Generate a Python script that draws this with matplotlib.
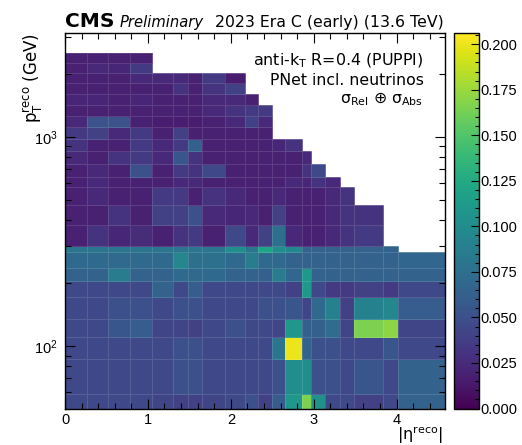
import numpy as np
import matplotlib
matplotlib.use("Agg")
import matplotlib.pyplot as plt
from matplotlib.ticker import MultipleLocator, AutoMinorLocator, FormatStrFormatter

plt.rcParams['font.family'] = ['Liberation Sans', 'DejaVu Sans']
plt.rcParams['mathtext.fontset'] = 'dejavusans'

# ---- data ----
eta_edges = [0, 0.261, 0.522, 0.783, 1.044, 1.305, 1.479, 1.653, 1.93, 2.172,
             2.322, 2.5, 2.65, 2.853, 2.964, 3.139, 3.314, 3.489, 3.839, 4.013, 4.583]
pt_edges = [50, 59, 87, 110, 134, 172, 205, 237, 280, 300, 378, 470, 578, 644,
            740, 852, 973, 1109, 1254, 1418, 1601, 1801, 2011, 2260, 2523]

nan = np.nan
# rows from low pT to high pT, 20 eta bins each (nan = empty)
row_50 = [0.045, 0.045, 0.045, 0.045, 0.042, 0.04, 0.04, 0.042, 0.045, 0.05, 0.04, 0.06, 0.11, 0.165, 0.105, 0.045, 0.045, 0.04, 0.045, 0.065]
row_59 = [0.045, 0.045, 0.045, 0.045, 0.045, 0.05, 0.05, 0.045, 0.045, 0.045, 0.045, 0.05, 0.10, 0.10, 0.05, 0.05, 0.045, 0.055, 0.045, 0.065]
row_87 = [0.045, 0.045, 0.045, 0.045, 0.045, 0.05, 0.05, 0.045, 0.045, 0.045, 0.045, 0.08, 0.20, 0.065, 0.05, 0.05, 0.045, 0.045, 0.055, 0.045]
row_110 = [0.045, 0.045, 0.055, 0.06, 0.042, 0.042, 0.04, 0.045, 0.05, 0.045, 0.045, 0.042, 0.11, 0.062, 0.062, 0.072, 0.042, 0.165, 0.17, 0.042]
row_134 = [0.045, 0.045, 0.05, 0.05, 0.045, 0.05, 0.05, 0.045, 0.045, 0.045, 0.05, 0.05, 0.055, 0.042, 0.07, 0.09, 0.04, 0.09, 0.095, 0.06]
row_172 = [0.045, 0.045, 0.045, 0.045, 0.065, 0.045, 0.06, 0.045, 0.045, 0.045, 0.045, 0.045, 0.04, 0.11, 0.045, 0.035, 0.035, 0.04, 0.035, 0.045]
row_205 = [0.065, 0.065, 0.085, 0.065, 0.065, 0.07, 0.07, 0.07, 0.065, 0.065, 0.062, 0.085, 0.068, 0.11, 0.065, 0.065, 0.065, 0.065, 0.065, 0.065]
row_237 = [0.07, 0.07, 0.07, 0.07, 0.07, 0.095, 0.075, 0.075, 0.07, 0.085, 0.07, 0.07, 0.065, 0.065, 0.065, 0.065, 0.065, 0.065, 0.065, 0.068]
row_280 = [0.08, 0.08, 0.08, 0.08, 0.08, 0.08, 0.08, 0.08, 0.10, 0.08, 0.12, 0.10, 0.095, 0.065, 0.065, 0.065, 0.065, 0.065, 0.065, nan]
row_300 = [0.019, 0.03, 0.022, 0.025, 0.019, 0.03, 0.035, 0.019, 0.045, 0.024, 0.04, 0.075, 0.024, 0.019, 0.019, 0.024, 0.03, 0.035]
row_378 = [0.019, 0.019, 0.03, 0.019, 0.04, 0.04, 0.05, 0.024, 0.022, 0.024, 0.019, 0.04, 0.019, 0.019, 0.019, 0.024, 0.03, 0.03]
row_470 = [0.019, 0.024, 0.019, 0.019, 0.035, 0.035, 0.019, 0.03, 0.024, 0.019, 0.019, 0.024, 0.019, 0.019, 0.019, 0.024, 0.03]
row_578 = [0.019, 0.024, 0.019, 0.019, 0.019, 0.024, 0.024, 0.019, 0.019, 0.019, 0.019, 0.019, 0.024, 0.022, 0.03, 0.024]
row_644 = [0.019, 0.024, 0.019, 0.05, 0.019, 0.035, 0.03, 0.045, 0.019, 0.019, 0.019, 0.019, 0.019, 0.03, 0.045]
row_740 = [0.024, 0.019, 0.03, 0.035, 0.024, 0.055, 0.03, 0.019, 0.019, 0.019, 0.019, 0.019, 0.019, 0.024]
row_852 = [0.03, 0.019, 0.019, 0.035, 0.024, 0.035, 0.062, 0.019, 0.019, 0.019, 0.019, 0.022, 0.03]
row_973 = [0.035, 0.04, 0.024, 0.035, 0.019, 0.04, 0.019, 0.019, 0.019, 0.019, 0.019]
row_1109 = [0.024, 0.052, 0.052, 0.019, 0.016, 0.016, 0.016, 0.019, 0.024, 0.04, 0.024]
row_1254 = [0.019, 0.019, 0.019, 0.019, 0.019, 0.019, 0.019, 0.024, 0.03, 0.035, 0.035]
row_1418 = [0.021, 0.021, 0.019, 0.021, 0.019, 0.019, 0.019, 0.024, 0.024, 0.019]
row_1601 = [0.019, 0.019, 0.019, 0.019, 0.019, 0.03, 0.019, 0.03, 0.04]
row_1801 = [0.019, 0.019, 0.019, 0.024, 0.024, 0.024, 0.019, 0.035, 0.016]
row_2011 = [0.019, 0.024, 0.022, 0.035]
row_2260 = [0.019, 0.019, 0.019, 0.019]

rows = [row_50, row_59, row_87, row_110, row_134, row_172, row_205, row_237, row_280,
        row_300, row_378, row_470, row_578, row_644, row_740, row_852, row_973,
        row_1109, row_1254, row_1418, row_1601, row_1801, row_2011, row_2260]

nx = len(eta_edges) - 1
Z = np.array([r + [nan] * (nx - len(r)) for r in rows], dtype=float)
Zm = np.ma.masked_invalid(Z)

# ---- figure ----
W, H = 522, 445
fig = plt.figure(figsize=(W / 100, H / 100), dpi=100)
ax = fig.add_axes([65 / W, 1 - 409 / H, 380 / W, (409 - 33.3) / H])
cax = fig.add_axes([454 / W, 1 - 408.5 / H, 25.3 / W, (408.5 - 33.3) / H])

mesh = ax.pcolormesh(eta_edges, pt_edges, Zm, cmap='viridis', vmin=0, vmax=0.206,
                     edgecolors=(1, 1, 1, 0.13), linewidth=0.6)
ax.set_yscale('log')
ax.set_xlim(0, 4.583)
ax.set_ylim(50, 3125)

ax.xaxis.set_major_locator(MultipleLocator(1))
ax.xaxis.set_minor_locator(AutoMinorLocator(5))
ax.tick_params(which='both', direction='in', top=True, right=True, width=0.8)
ax.tick_params(which='major', length=7, labelsize=10.5, pad=3)
ax.tick_params(which='minor', length=4)
ax.tick_params(axis='y', which='major', pad=5)
for s in ax.spines.values():
    s.set_linewidth(1.0)

cb = fig.colorbar(mesh, cax=cax)
cb.set_ticks(np.arange(0, 0.2001, 0.025))
cb.ax.yaxis.set_major_formatter(FormatStrFormatter('%.3f'))
cb.ax.yaxis.set_minor_locator(MultipleLocator(0.005))
cb.ax.tick_params(which='both', direction='in', right=True, left=False, width=0.8)
cb.ax.tick_params(which='major', length=6, labelsize=10.5, pad=1)
cb.ax.tick_params(which='minor', length=3)
cb.outline.set_linewidth(1.0)

# ---- labels ----
def fx(px):
    return px / W

def fy(py):
    return 1 - py / H

DV = ['DejaVu Sans']
fig.text(fx(65), fy(27), "CMS", fontsize=14.5, fontweight='bold', ha='left', va='baseline', family=DV)
fig.text(fx(120), fy(27), "Preliminary", fontsize=10.6, style='italic', ha='left', va='baseline', family=DV)
fig.text(fx(444), fy(27), "2023 Era C (early) (13.6 TeV)", fontsize=11.3, ha='right', va='baseline', family=DV)

fig.text(fx(423), fy(65), r"anti-k$_{\rm T}$ R=0.4 (PUPPI)", fontsize=11.4, ha='right', va='baseline', family=DV)
fig.text(fx(424), fy(85), "PNet incl. neutrinos", fontsize=11.3, ha='right', va='baseline', family=DV)
fig.text(fx(423), fy(103), r"σ$_{\rm Rel}$ $\oplus$ σ$_{\rm Abs}$", fontsize=11.3, ha='right', va='baseline', family=DV)

fig.text(fx(33), fy(33), r"p$_{\rm T}^{\rm reco}$ (GeV)", fontsize=12, rotation=90, ha='center', va='top', family=DV)
fig.text(fx(443), fy(440), r"|η$^{\rm reco}$|", fontsize=11.5, ha='right', va='baseline', family=DV)

fig.savefig("out.png", dpi=100)
